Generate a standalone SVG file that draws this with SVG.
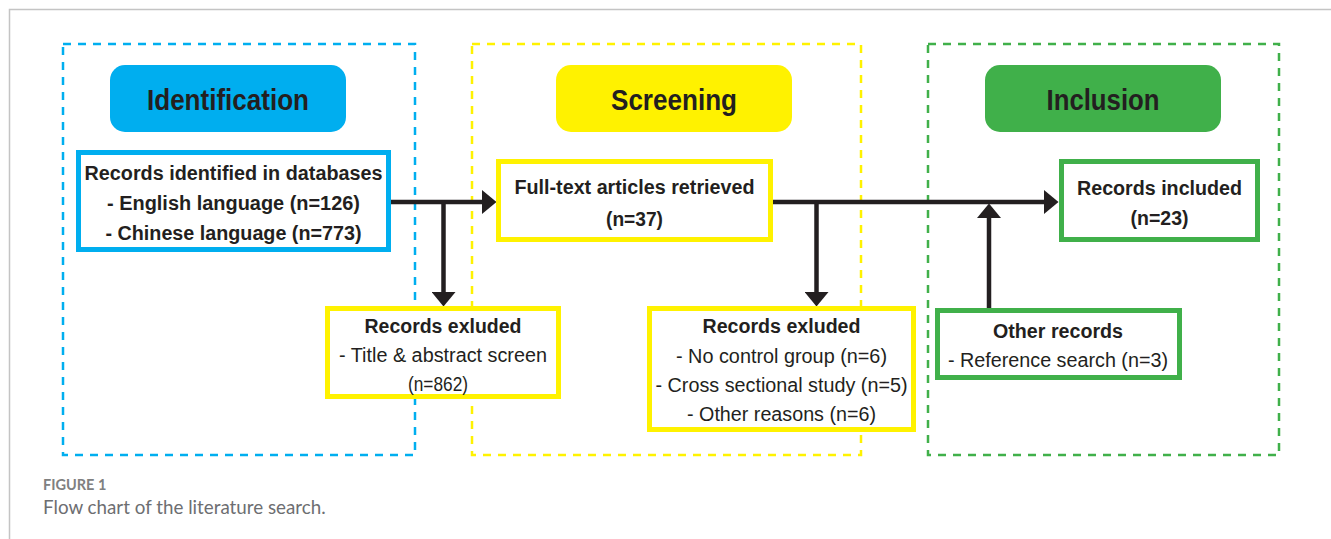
<svg xmlns="http://www.w3.org/2000/svg" width="1331" height="539" viewBox="0 0 1331 539">
<style>
  .frame{fill:none;stroke:#c4c4c4;stroke-width:1.5}
  .zone{fill:none;stroke-width:2.5;stroke-dasharray:8 7}
  .hdr{font-family:"Liberation Sans",Arial,sans-serif;font-weight:bold;font-size:30px;fill:#231f20;text-anchor:middle}
  .box{fill:#fff;stroke-width:5}
  .b{font-family:"Liberation Sans",Arial,sans-serif;font-weight:bold;font-size:20px;fill:#231f20;text-anchor:middle}
  .r{font-family:"Liberation Sans",Arial,sans-serif;font-size:20px;fill:#231f20;text-anchor:middle}
  .conn{fill:none;stroke:#231f20;stroke-width:4.5}
  .cap1{font-family:Lato,"Open Sans",sans-serif;font-weight:bold;font-size:14.5px;fill:#808080}
  .cap2{font-family:Lato,"Open Sans",sans-serif;font-size:18.8px;fill:#6d6e71}
</style>
<defs>
  <marker id="ah" markerUnits="userSpaceOnUse" markerWidth="15" markerHeight="24" refX="0" refY="12" orient="auto" viewBox="0 0 15 24">
    <path d="M0,0 L14.5,12 L0,24 z" fill="#231f20"/>
  </marker>
</defs>
<rect width="1331" height="539" fill="#fff"/>
<path class="frame" d="M9.5,539 V9.5 H1331"/>

<g id="zone-identification">
  <rect class="zone" x="63" y="44" width="352" height="411" stroke="#00aeef"/>
</g>
<g id="zone-screening">
  <rect class="zone" x="472" y="44" width="389" height="411" stroke="#fff200"/>
</g>
<g id="zone-inclusion">
  <rect class="zone" x="928" y="44" width="351" height="411" stroke="#40b04a"/>
</g>

<g id="hdr-identification">
  <rect x="110" y="65" width="236" height="67" rx="15" fill="#00aeef"/>
  <text class="hdr" x="228" y="110" textLength="162" lengthAdjust="spacingAndGlyphs">Identification</text>
</g>
<g id="hdr-screening">
  <rect x="556" y="65" width="236" height="67" rx="15" fill="#fff200"/>
  <text class="hdr" x="674" y="110" textLength="126" lengthAdjust="spacingAndGlyphs">Screening</text>
</g>
<g id="hdr-inclusion">
  <rect x="985" y="65" width="236" height="67" rx="15" fill="#40b04a"/>
  <text class="hdr" x="1103" y="110" textLength="113" lengthAdjust="spacingAndGlyphs">Inclusion</text>
</g>

<g id="connectors">
  <path class="conn" d="M391,202 H482" marker-end="url(#ah)"/>
  <path class="conn" d="M443.5,202 V292" marker-end="url(#ah)"/>
  <path class="conn" d="M773,202 H1044" marker-end="url(#ah)"/>
  <path class="conn" d="M816.5,202 V292" marker-end="url(#ah)"/>
  <path class="conn" d="M989,308 V218" marker-end="url(#ah)"/>
</g>

<g id="node-identified">
  <rect class="box" x="78.5" y="152.5" width="310" height="97" stroke="#00aeef"/>
  <text class="b" x="233.5" y="180" textLength="298" lengthAdjust="spacingAndGlyphs">Records identified in databases</text>
  <text class="b" x="233.5" y="210" textLength="253" lengthAdjust="spacingAndGlyphs">- English language (n=126)</text>
  <text class="b" x="233.5" y="240" textLength="256" lengthAdjust="spacingAndGlyphs">- Chinese language (n=773)</text>
</g>

<g id="node-fulltext">
  <rect class="box" x="498.5" y="161.5" width="272" height="78" stroke="#fff200"/>
  <text class="b" x="634.5" y="194" textLength="240" lengthAdjust="spacingAndGlyphs">Full-text articles retrieved</text>
  <text class="b" x="634.5" y="226" textLength="57" lengthAdjust="spacingAndGlyphs">(n=37)</text>
</g>

<g id="node-included">
  <rect class="box" x="1061.5" y="161.5" width="196" height="78" stroke="#40b04a"/>
  <text class="b" x="1159.5" y="195" textLength="165" lengthAdjust="spacingAndGlyphs">Records included</text>
  <text class="b" x="1159.5" y="225" textLength="58" lengthAdjust="spacingAndGlyphs">(n=23)</text>
</g>

<g id="node-excluded-1">
  <rect class="box" x="327.5" y="308.5" width="231" height="88" stroke="#fff200"/>
  <text class="b" x="443" y="333" textLength="157" lengthAdjust="spacingAndGlyphs">Records exluded</text>
  <text class="r" x="443" y="362" textLength="208" lengthAdjust="spacingAndGlyphs">- Title &amp; abstract screen</text>
  <text class="r" x="438" y="391" textLength="60" lengthAdjust="spacingAndGlyphs">(n=862)</text>
</g>

<g id="node-excluded-2">
  <rect class="box" x="649.5" y="308.5" width="264" height="121" stroke="#fff200"/>
  <text class="b" x="781.5" y="333" textLength="158" lengthAdjust="spacingAndGlyphs">Records exluded</text>
  <text class="r" x="781.5" y="363" textLength="211" lengthAdjust="spacingAndGlyphs">- No control group (n=6)</text>
  <text class="r" x="781.5" y="392" textLength="252" lengthAdjust="spacingAndGlyphs">- Cross sectional study (n=5)</text>
  <text class="r" x="781.5" y="421" textLength="189" lengthAdjust="spacingAndGlyphs">- Other reasons (n=6)</text>
</g>

<g id="node-other">
  <rect class="box" x="937.5" y="310.5" width="242" height="67" stroke="#40b04a"/>
  <text class="b" x="1058" y="338" textLength="130" lengthAdjust="spacingAndGlyphs">Other records</text>
  <text class="r" x="1058" y="367" textLength="220" lengthAdjust="spacingAndGlyphs">- Reference search (n=3)</text>
</g>

<g id="caption">
  <text class="cap1" x="43" y="490">FIGURE 1</text>
  <text class="cap2" x="43" y="514">Flow chart of the literature search.</text>
</g>
</svg>
